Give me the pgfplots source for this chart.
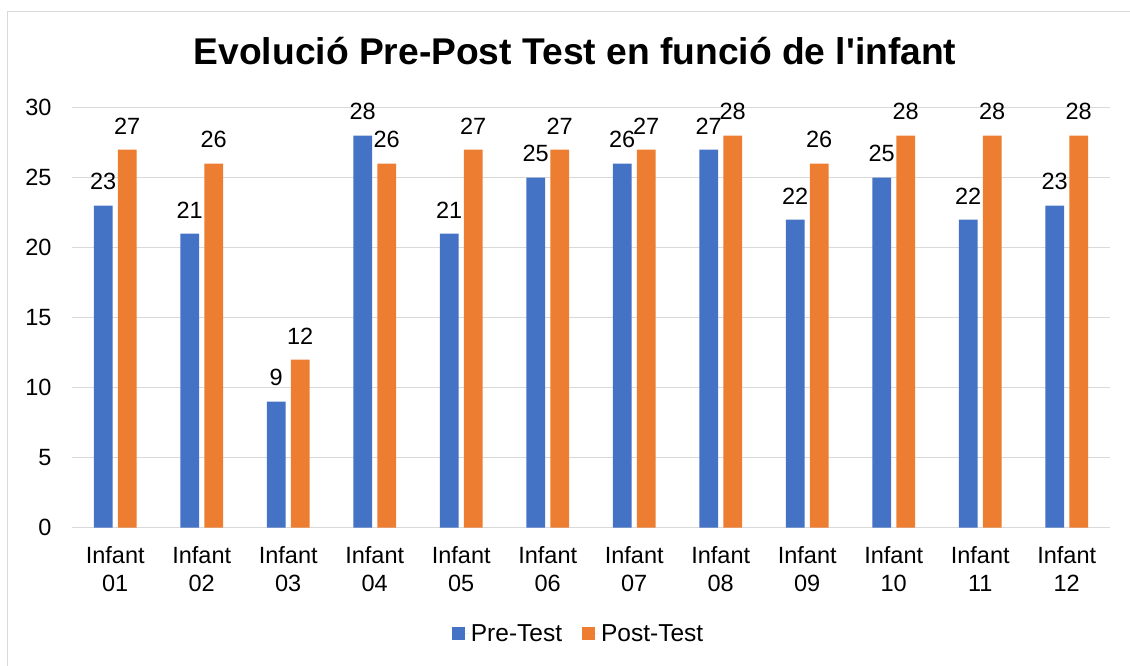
\documentclass[border=0pt]{standalone}
\usepackage{fontspec}
\setmainfont{Liberation Sans}
\usepackage{pgfplots}
\pgfplotsset{compat=1.18}
\definecolor{preblue}{HTML}{4472C4}
\definecolor{postorange}{HTML}{ED7D31}
\definecolor{gridgray}{HTML}{D9D9D9}
\newcommand{\lblfont}{\fontsize{23.5}{28}\selectfont}
\begin{document}
\begin{tikzpicture}[x=1pt,y=1pt]
\useasboundingbox (0,0) rectangle (1130,666);
\draw[gridgray, line width=1.3pt] (7.5,0) -- (7.5,654.5) -- (1131,654.5);
\node[anchor=base, inner sep=0pt, font=\fontsize{37.2}{44}\selectfont\bfseries] at (575,601) {Evolució Pre-Post Test en funció de l\textquotesingle infant};
\begin{axis}[
  at={(72pt,138.3pt)}, anchor=south west,
  scale only axis, width=1038pt, height=420pt,
  xmin=-0.5, xmax=11.5, ymin=0, ymax=30,
  ybar=5.3pt, bar width=18.7pt,
  clip=false,
  axis line style={draw=none},
  ymajorgrids, grid style={gridgray, line width=1.3pt},
  ytick={0,5,...,30},
  xtick={0,...,11},
  xticklabels={{Infant\\01},{Infant\\02},{Infant\\03},{Infant\\04},{Infant\\05},{Infant\\06},{Infant\\07},{Infant\\08},{Infant\\09},{Infant\\10},{Infant\\11},{Infant\\12}},
  major tick length=0pt,
  tick style={draw=none},
  /pgf/number format/assume math mode=true,
  tick label style={font=\lblfont},
  xticklabel style={align=center, yshift=-15pt},
  yticklabel style={xshift=-17pt},
  nodes near coords,
  every node near coord/.append style={font=\lblfont, yshift=12pt},
  legend style={at={(0.488,-0.253)}, anchor=center, draw=none, fill=none,
    legend columns=-1, font=\fontsize{24.5}{28}\selectfont,
    /tikz/every even column/.append style={column sep=18pt}},
]
\addplot[fill=preblue, draw=none, legend image code/.code={\path (0pt,0pt) -- (17pt,0pt);\fill[preblue] (0pt,-6.5pt) rectangle (13pt,6.5pt);}]
  coordinates {(0,23) (1,21) (2,9) (3,28) (4,21) (5,25) (6,26) (7,27) (8,22) (9,25) (10,22) (11,23)};
\addlegendentry{Pre-Test}
\addplot[fill=postorange, draw=none, legend image code/.code={\path (0pt,0pt) -- (17pt,0pt);\fill[postorange] (0pt,-6.5pt) rectangle (13pt,6.5pt);}]
  coordinates {(0,27) (1,26) (2,12) (3,26) (4,27) (5,27) (6,27) (7,28) (8,26) (9,28) (10,28) (11,28)};
\addlegendentry{Post-Test}
\end{axis}
\end{tikzpicture}
\end{document}
